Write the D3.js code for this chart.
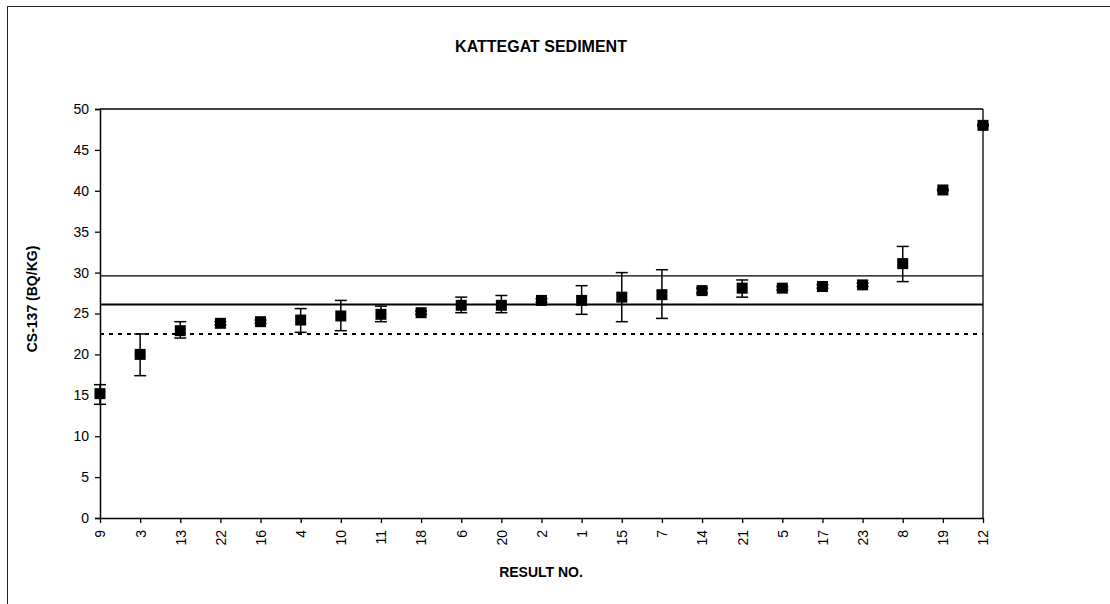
<!DOCTYPE html>
<html>
<head>
<meta charset="utf-8">
<script src="https://cdn.jsdelivr.net/npm/d3@7"></script>
<style>
  html, body { margin: 0; padding: 0; background: #fff; }
  svg { display: block; }
  text { font-family: "Liberation Sans", Arial, sans-serif; fill: #000; }
</style>
</head>
<body>
<svg id="chart" width="1110" height="604"></svg>
<script>
// ---- data ----
const resultNos = ["9","3","13","22","16","4","10","11","18","6","20","2","1","15","7","14","21","5","17","23","8","19","12"];
const cs137 = [15.2,20.0,22.9,23.8,24.0,24.2,24.7,24.9,25.1,26.0,26.0,26.6,26.6,27.0,27.3,27.8,28.1,28.1,28.3,28.5,31.1,40.1,48.0];
const errLow = [13.9,17.4,22.0,23.6,23.8,22.7,22.9,24.0,24.9,25.1,25.1,26.4,24.9,24.0,24.4,27.5,27.0,27.9,28.1,28.3,28.9,40.0,47.9];
const errHigh = [16.3,22.5,24.0,24.0,24.2,25.6,26.6,25.9,25.3,27.0,27.2,26.8,28.4,30.0,30.35,28.1,29.1,28.3,28.5,28.7,33.2,40.2,48.1];
const yTicks = [0,5,10,15,20,25,30,35,40,45,50];
const refSolid = [29.6, 26.1];
const refDotted = [22.5];
const chartTitle = "KATTEGAT SEDIMENT";
const xTitle = "RESULT NO.";
const yTitle = "CS-137 (BQ/KG)";

(function () {
// ---- layout ----
const svg = d3.select("#chart");
const pLeft = 100, pRight = 983, pTop = 109, pBottom = 518;

// outer border (extends past right/bottom of window)
svg.append("rect").attr("x", 7.5).attr("y", 6.5).attr("width", 1200).attr("height", 700)
  .attr("fill", "none").attr("stroke", "#222").attr("stroke-width", 1);

const x = d3.scalePoint().domain(resultNos).range([pLeft, pRight]).padding(0);
const y = d3.scaleLinear().domain([0, 50]).range([pBottom, pTop]);

// top and right frame lines of plot area
svg.append("line").attr("x1", pLeft).attr("x2", pRight).attr("y1", y(50)).attr("y2", y(50))
  .attr("stroke", "#000").attr("stroke-width", 1.3);
svg.append("line").attr("x1", pRight).attr("x2", pRight).attr("y1", y(50)).attr("y2", y(0))
  .attr("stroke", "#000").attr("stroke-width", 1.3);

// reference lines
svg.selectAll("line.ref").data(refSolid).enter().append("line")
  .attr("class", "ref")
  .attr("x1", pLeft).attr("x2", pRight)
  .attr("y1", d => y(d)).attr("y2", d => y(d))
  .attr("stroke", "#000").attr("stroke-width", (d, i) => i === 0 ? 1.3 : 1.8);
svg.selectAll("line.refdot").data(refDotted).enter().append("line")
  .attr("class", "refdot")
  .attr("x1", pLeft).attr("x2", pRight)
  .attr("y1", d => y(d)).attr("y2", d => y(d))
  .attr("stroke", "#000").attr("stroke-width", 2).attr("stroke-dasharray", "4,5");

// axes
const yAxis = d3.axisLeft(y).tickValues(yTicks).tickSize(5).tickPadding(6).tickFormat(d3.format("d"));
const gy = svg.append("g").attr("transform", `translate(${pLeft},0)`).call(yAxis);
gy.select(".domain").attr("stroke-width", 1.5);
gy.selectAll(".tick line").attr("stroke-width", 1.3);
gy.selectAll("text").style("font-size", "14px").attr("fill", "#000");

const xAxis = d3.axisBottom(x).tickSize(5).tickPadding(7).tickSizeOuter(0);
const gx = svg.append("g").attr("transform", `translate(0,${pBottom})`).call(xAxis);
gx.select(".domain").attr("stroke-width", 1.5);
gx.selectAll(".tick line").attr("stroke-width", 1.3);
gx.selectAll("text")
  .style("font-size", "14px").attr("fill", "#000")
  .attr("transform", "rotate(-90)")
  .attr("x", -12).attr("y", 0).attr("dy", "0.35em")
  .attr("text-anchor", "end");

// error bars
const eb = svg.append("g");
resultNos.forEach((r, i) => {
  const cx = x(r);
  eb.append("line").attr("x1", cx).attr("x2", cx).attr("y1", y(errLow[i])).attr("y2", y(errHigh[i]))
    .attr("stroke", "#000").attr("stroke-width", 1.5);
  [errLow[i], errHigh[i]].forEach(v => {
    eb.append("line").attr("x1", cx - 6).attr("x2", cx + 6).attr("y1", y(v)).attr("y2", y(v))
      .attr("stroke", "#000").attr("stroke-width", 1.5);
  });
});

// markers
const ms = 11;
svg.append("g").selectAll("rect").data(resultNos).enter().append("rect")
  .attr("x", d => x(d) - ms / 2)
  .attr("y", (d, i) => y(cs137[i]) - ms / 2)
  .attr("width", ms).attr("height", ms)
  .attr("fill", "#000");

// titles
svg.append("text").attr("x", 541).attr("y", 52).attr("text-anchor", "middle")
  .style("font-size", "16px").style("font-weight", "bold").text(chartTitle);
svg.append("text").attr("x", 541).attr("y", 577).attr("text-anchor", "middle")
  .style("font-size", "14px").style("font-weight", "bold").text(xTitle);
svg.append("text").attr("transform", "translate(37,299) rotate(-90)").attr("text-anchor", "middle")
  .style("font-size", "14px").style("font-weight", "bold").text(yTitle);
})();
</script>
</body>
</html>
